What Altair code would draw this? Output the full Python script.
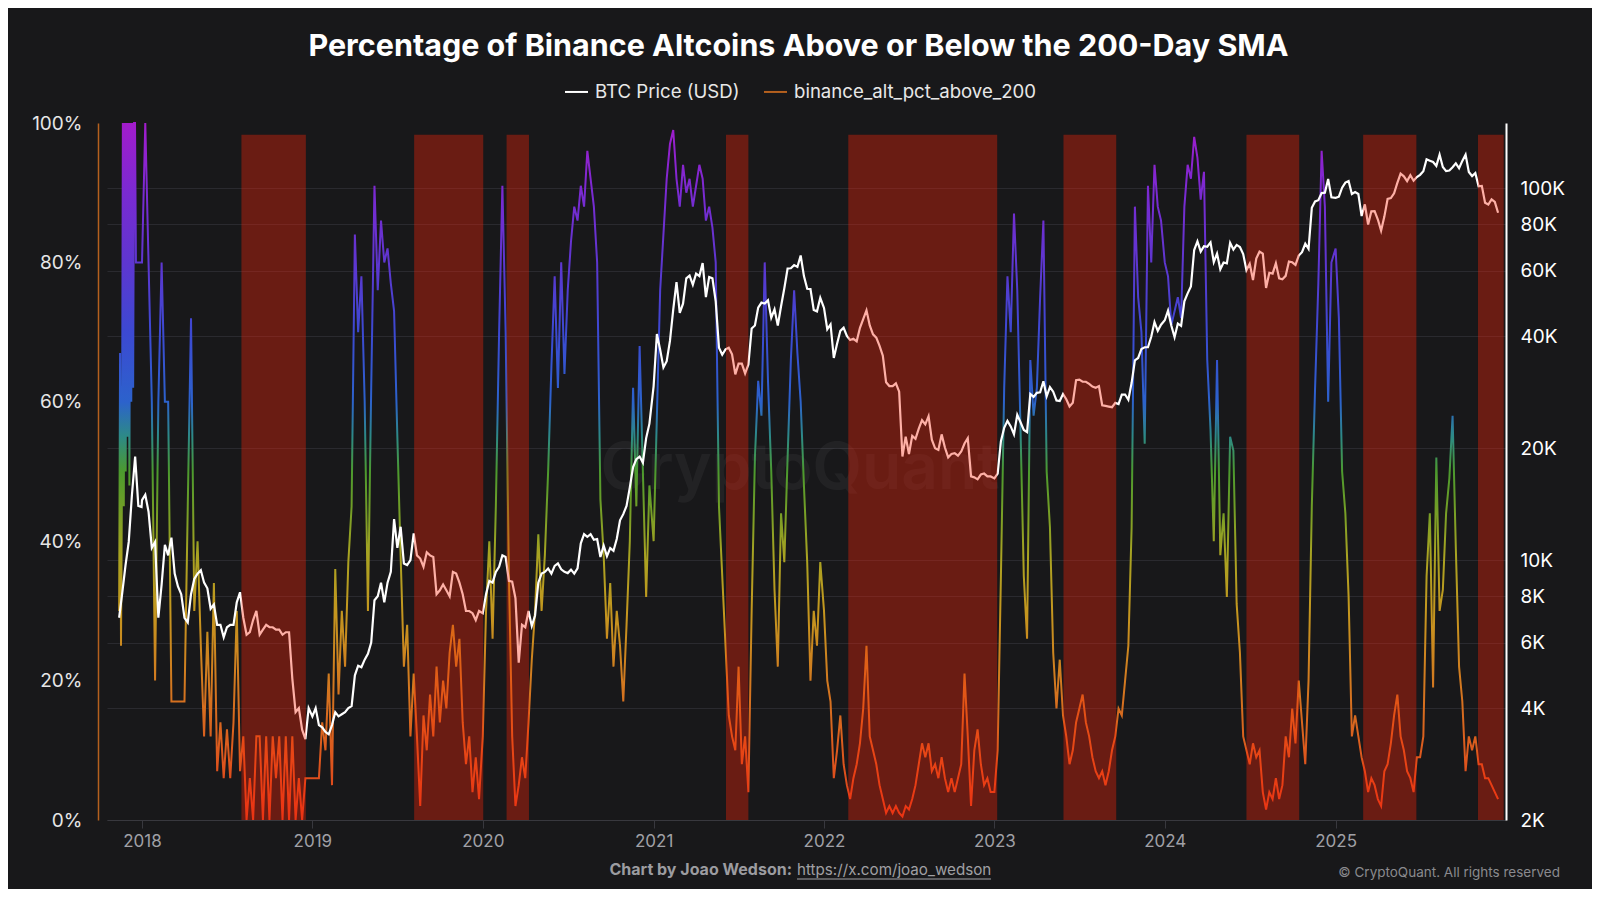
import altair as alt
import pandas as pd

TITLE = "Percentage of Binance Altcoins Above or Below the 200-Day SMA"
SERIES = ["BTC Price (USD)", "binance_alt_pct_above_200"]

# each block of readings is spread evenly over its own date span
spans = [
    ("2017-11-13", "2017-12-31"),
    ("2018-01-01", "2018-12-24"),
    ("2019-01-01", "2019-12-24"),
    ("2020-01-01", "2020-12-23"),
    ("2021-01-01", "2021-12-24"),
    ("2022-01-01", "2022-12-24"),
    ("2023-01-01", "2023-12-24"),
    ("2024-01-01", "2024-12-23"),
    ("2025-01-01", "2025-12-15"),
]

# % of Binance altcoins above their 200-day SMA
alt_2017 = [30, 67, 25, 48, 100, 45, 100, 50, 100, 55, 100, 48, 100, 60, 100, 62, 100, 100,
            80, 80, 80, 80, 80, 80, 80]
alt_2018 = [80, 100, 80, 60, 20, 60, 80, 60, 60, 17, 17, 17, 17, 17, 45, 72, 30, 40, 25, 12,
            27, 12, 34, 7, 14, 6, 13, 6, 14, 30, 7, 12, 0, 6, 0, 12, 12, 0, 12, 0,
            12, 6, 12, 0, 12, 0, 12, 0, 6, 0, 6, 6]
alt_2019 = [6, 6, 6, 14, 10, 21, 5, 36, 18, 30, 22, 37, 45, 84, 70, 78, 60, 30, 62, 91,
            76, 86, 80, 82, 77, 73, 55, 38, 22, 28, 12, 21, 12, 2, 15, 10, 18, 12, 22, 14,
            20, 16, 24, 28, 22, 26, 14, 8, 12, 4, 9, 3]
alt_2020 = [12, 30, 40, 26, 45, 70, 91, 70, 35, 12, 2, 5, 9, 6, 14, 23, 30, 41, 30, 38,
            50, 65, 78, 62, 80, 64, 76, 83, 88, 86, 91, 88, 96, 92, 88, 80, 46, 38, 26, 34,
            22, 30, 25, 17, 28, 40, 62, 45, 68, 50, 32, 48]
alt_2021 = [40, 58, 76, 84, 92, 97, 99, 92, 88, 94, 90, 92, 88, 91, 94, 92, 86, 88, 85, 80,
            45, 35, 25, 15, 12, 10, 22, 8, 12, 4, 30, 52, 63, 58, 80, 63, 50, 33, 22, 44,
            37, 52, 66, 76, 67, 60, 48, 37, 20, 30, 25, 37]
alt_2022 = [30, 20, 17, 6, 10, 15, 8, 5, 3, 6, 8, 11, 16, 25, 12, 10, 8, 5, 3, 1,
            2, 1, 2, 1, 0.5, 2, 1.5, 3, 5, 8, 11, 9, 11, 7, 8, 6, 9, 6, 4, 6,
            4, 6, 8, 21, 12, 2, 10, 13, 8, 5, 6, 4]
alt_2023 = [4, 10, 35, 62, 78, 70, 87, 76, 56, 35, 26, 66, 58, 62, 75, 86, 50, 42, 24, 16,
            23, 15, 12, 8, 10, 14, 16, 18, 14, 12, 9, 7, 6, 7, 5, 7, 10, 12, 16, 15,
            20, 25, 42, 88, 75, 70, 54, 91, 80, 94, 88, 86]
alt_2024 = [80, 78, 71, 73, 75, 72, 88, 94, 92, 98, 95, 89, 93, 66, 56, 40, 66, 38, 44, 32,
            55, 53, 31, 24, 12, 10, 8, 11, 9, 10, 4, 1.5, 4, 3, 6, 3, 5, 12, 9, 16,
            11, 20, 14, 8, 20, 45, 62, 77, 96, 88, 60, 80]
alt_2025 = [82, 72, 50, 44, 32, 12, 15, 12, 9, 7, 4, 6, 5, 3, 2, 7, 8, 11, 15, 18,
            12, 10, 7, 6, 4, 9, 9, 12, 35, 44, 19, 52, 30, 33, 44, 49, 58, 39, 22, 17,
            7, 12, 10, 12, 8, 8, 6, 6, 5, 4, 3]

# BTC price in USD, roughly weekly
btc_2017 = [7000, 8200, 9700, 11200, 15000, 19000, 14000, 13900]
btc_2018 = [14500, 15000, 13500, 10800, 11200, 7000, 8600, 11000, 10300, 11500, 9200, 8500, 8100,
            7000, 6800, 8100, 8900, 9200, 9400, 8700, 8400, 7400, 7600, 6700, 6700, 6200,
            6600, 6700, 6700, 7700, 8200, 7000, 6300, 6400, 6900, 7300, 6300, 6500, 6700,
            6600, 6600, 6500, 6500, 6300, 6400, 6400, 4800, 3900, 4000, 3500, 3300, 4000]
btc_2019 = [3800, 4000, 3600, 3550, 3450, 3400, 3600, 3900, 3800, 3850, 3900, 4000, 4050,
            4900, 5200, 5150, 5400, 5600, 6000, 7800, 8000, 8700, 7700, 8700, 9300, 12900,
            10800, 12300, 9800, 9700, 10000, 11800, 10300, 10100, 9600, 10500, 10300, 10200,
            8100, 8300, 8600, 8300, 8000, 9300, 9200, 8700, 8100, 7300, 7300, 7200, 6900, 7300]
btc_2020 = [7200, 8100, 8800, 8700, 9300, 9600, 10300, 10200, 8800, 8750, 7900, 5300, 6700,
            6600, 7300, 6650, 7100, 8700, 9200, 9300, 9500, 9200, 9650, 9800, 9450, 9300,
            9230, 9430, 9200, 9500, 11100, 11750, 11550, 11750, 11350, 11400, 10200, 10950,
            10250, 10780, 10600, 11400, 12800, 13300, 14000, 15700, 17800, 18700, 19000,
            18300, 21300, 23300]
btc_2021 = [29400, 40600, 36800, 33000, 34300, 38900, 47200, 56000, 46300, 49000, 57300, 58300,
            55100, 59000, 58100, 63000, 51000, 57800, 57300, 49700, 37300, 35700, 36900,
            37300, 35800, 31600, 33800, 33800, 31800, 33600, 42000, 42800, 47800, 49300,
            49000, 50000, 44900, 47300, 42800, 48200, 53900, 60900, 61000, 62200, 61500,
            66000, 58100, 53700, 53600, 47100, 46700, 50800]
btc_2022 = [47700, 41800, 43100, 35000, 38200, 41400, 42200, 40100, 39100, 39400, 38800, 42200,
            44500, 47000, 42800, 40500, 39700, 37700, 35500, 30100, 29400, 29400, 29900,
            28400, 19000, 21500, 19300, 21600, 21200, 22600, 23800, 23200, 24400, 21100,
            20000, 19800, 21800, 20100, 18900, 19300, 19400, 19100, 19600, 20600, 21300,
            16800, 16700, 16500, 17000, 17100, 16800, 16800]
btc_2023 = [16600, 17100, 20900, 22700, 23700, 22900, 21800, 24600, 23500, 22400, 22100, 28000,
            27500, 28200, 28300, 30300, 27600, 29200, 28400, 26900, 26800, 28000, 27100,
            25900, 26500, 30500, 30600, 30200, 30200, 29800, 29300, 29100, 29400, 26100,
            26000, 25900, 25800, 26500, 26300, 27900, 27900, 27000, 30000, 34500, 35000,
            37000, 37400, 37400, 39900, 43700, 41400, 43000]
btc_2024 = [44200, 46900, 42800, 39800, 43300, 42700, 49700, 52200, 54500, 68300, 72100, 67600,
            69900, 69700, 71600, 63400, 66800, 60600, 63200, 62900, 71400, 68500, 70500,
            69600, 66600, 60300, 62700, 56700, 64800, 67600, 66800, 54000, 59300, 59000,
            62900, 57300, 57000, 58200, 63600, 63300, 62300, 66000, 67400, 71000, 68800,
            88700, 92300, 93000, 97200, 97400, 106000, 94700]
btc_2025 = [94400, 95000, 100500, 103700, 104700, 96600, 97800, 96600, 84300, 90600, 80000,
            86800, 86900, 82500, 77000, 84000, 93700, 94200, 97000, 103500, 109600, 107800,
            104700, 108600, 104900, 107300, 108800, 111300, 119800, 118800, 117800, 115000,
            123300, 114200, 111300, 111700, 114000, 116800, 113300, 118600, 123300, 110700,
            108000, 110000, 101300, 101600, 91500, 90500, 93500, 92000, 86000]

# bear zones
zone_start = ["2018-08-02", "2019-08-07", "2020-02-21", "2021-06-05", "2022-02-22",
              "2023-05-29", "2024-06-24", "2025-03-01", "2025-11-02"]
zone_end = ["2018-12-18", "2020-01-02", "2020-04-09", "2021-07-23", "2023-01-07",
            "2023-09-19", "2024-10-15", "2025-06-23", "2025-12-27"]

years = list(range(2018, 2026))
pct_ticks = [0, 20, 40, 60, 80, 100]
price_ticks = [2000, 4000, 6000, 8000, 10000, 20000, 40000, 60000, 80000, 100000]


def spread(values_by_span):
    parts = [
        pd.DataFrame({"date": pd.date_range(s, e, periods=len(v)), "value": v})
        for (s, e), v in zip(spans, values_by_span)
    ]
    return pd.concat(parts, ignore_index=True)


alt_frame = spread([alt_2017, alt_2018, alt_2019, alt_2020, alt_2021,
                    alt_2022, alt_2023, alt_2024, alt_2025])
btc_frame = spread([btc_2017, btc_2018, btc_2019, btc_2020, btc_2021,
                    btc_2022, btc_2023, btc_2024, btc_2025])
btc_frame["series"] = SERIES[0]
zones = pd.DataFrame({"start": zone_start, "end": zone_end})
zones["lo"] = 0
zones["hi"] = 98.3

FONT = "Inter"
x_scale = alt.Scale(domain=[alt.DateTime(year=2017, month=10, date=18),
                            alt.DateTime(year=2026, month=1, date=1)])
x_axis = alt.Axis(
    values=[alt.DateTime(year=y, month=1, date=1) for y in years],
    format="%Y", grid=False, labelColor="#a0a0a6", labelFontSize=17, labelPadding=5,
    tickColor="#38383e", tickSize=8, domainColor="#38383e", title=None,
)

stops = [
    (0.00, "#e23c1a"), (0.10, "#dc5a1e"), (0.20, "#d27a20"), (0.30, "#c4971f"),
    (0.38, "#a8a322"), (0.45, "#6f9e27"), (0.50, "#4c9a2e"), (0.55, "#2d8a86"),
    (0.60, "#2c62cc"), (0.70, "#3c49d2"), (0.80, "#5e36d0"), (0.90, "#7a2ad2"),
    (1.00, "#a21ccc"),
]
gradient = alt.Gradient(
    gradient="linear",
    stops=[alt.GradientStop(offset=o, color=c) for o, c in stops],
    x1=0, x2=0, y1=1, y2=0,
)

watermark = alt.Chart(pd.DataFrame({"k": [0]})).mark_text(
    text="CryptoQuant", font=FONT, fontSize=64, fontWeight=600,
    color="#ffffff", opacity=0.045, align="center", baseline="middle",
).encode(x=alt.value(693), y=alt.value(347))

pct_line = alt.Chart(alt_frame).mark_line(stroke=gradient, strokeWidth=2).encode(
    x=alt.X("date:T", scale=x_scale, axis=x_axis, title=None),
    y=alt.Y(
        "value:Q",
        scale=alt.Scale(domain=[0, 100], nice=False),
        axis=alt.Axis(
            orient="left", offset=9, values=pct_ticks, labelExpr="datum.value + '%'",
            ticks=False, grid=False, domainColor="#b5601e", domainWidth=1.5,
            labelColor="#e6e6e6", labelFontSize=19, labelPadding=16, title=None,
        ),
    ),
)

btc_line = alt.Chart(btc_frame).mark_line(strokeWidth=2.2).encode(
    x=alt.X("date:T", scale=x_scale, axis=x_axis, title=None),
    y=alt.Y(
        "value:Q",
        scale=alt.Scale(type="log", domain=[2000, 150000], nice=False),
        axis=alt.Axis(
            orient="right", values=price_ticks, labelExpr="(datum.value / 1000) + 'K'",
            ticks=False, grid=True, gridColor="#2a2a2f", domainColor="#ffffff",
            domainWidth=2, labelColor="#ffffff", labelFontSize=19, labelPadding=14,
            title=None,
        ),
    ),
    color=alt.Color(
        "series:N",
        scale=alt.Scale(domain=SERIES, range=["#ffffff", "#b5601e"]),
        legend=alt.Legend(
            orient="none", legendX=457, legendY=-44, direction="horizontal", title=None,
            symbolType="stroke", symbolStrokeWidth=2, symbolSize=529,
            labelFontSize=18.6, labelColor="#e8e8e8", labelFont=FONT, labelLimit=500,
            labelOffset=6, columnPadding=20,
        ),
    ),
)

zone_rects = alt.Chart(zones).mark_rect(color="#fc2307", opacity=0.36).encode(
    x=alt.X("start:T", scale=x_scale, axis=x_axis, title=None),
    x2="end:T",
    y=alt.Y("lo:Q", scale=alt.Scale(domain=[0, 100], nice=False), axis=None),
    y2="hi:Q",
)

note = alt.Chart(pd.DataFrame({"k": [0]}))
credit = note.mark_text(
    text="Chart by Joao Wedson:", font=FONT, fontSize=16, fontWeight="bold",
    color="#9c9ca0", align="right", baseline="middle",
).encode(x=alt.value(685), y=alt.value(747))
link = note.mark_text(
    text="https://x.com/joao_wedson", font=FONT, fontSize=15.2,
    color="#a0a0a4", align="left", baseline="middle",
).encode(x=alt.value(690), y=alt.value(747))
underline = note.mark_rule(color="#a0a0a4", strokeWidth=1).encode(
    x=alt.value(690), x2=alt.value(884), y=alt.value(756)
)
rights = note.mark_text(
    text="\u00a9 CryptoQuant. All rights reserved", font=FONT, fontSize=13.5,
    color="#8a8a8e", align="right", baseline="middle",
).encode(x=alt.value(1453), y=alt.value(750))

chart = (
    alt.layer(
        alt.layer(watermark, pct_line),
        btc_line,
        alt.layer(zone_rects, credit, link, underline, rights),
    )
    .resolve_scale(y="independent")
    .properties(
        width=1399,
        height=697,
        autosize=alt.AutoSizeParams(type="none"),
        padding={"left": 99, "top": 115, "right": 86, "bottom": 69},
        title=alt.TitleParams(
            TITLE, font=FONT, fontSize=30.5, fontWeight="bold", color="#ffffff",
            anchor="middle", frame="group", offset=17, dx=-8,
        ),
    )
    .configure(background="#18181a")
    .configure_view(stroke=None)
    .configure_axis(labelFont=FONT)
)

chart.save("out.html", embed_options={"renderer": "svg", "actions": False})
